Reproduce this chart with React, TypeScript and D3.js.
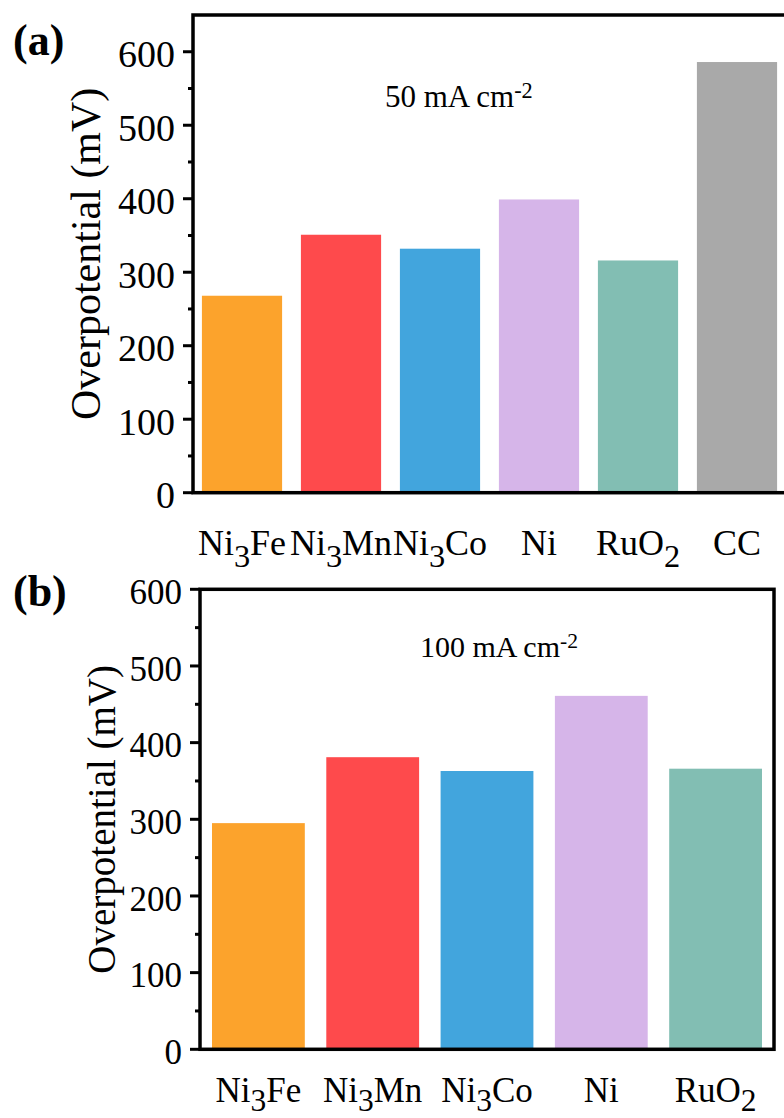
import React from "react";
import * as d3 from "d3";

// overpotential at 50 mA cm-2 (panel a) and 100 mA cm-2 (panel b)
const categoriesA = ["Ni3Fe", "Ni3Mn", "Ni3Co", "Ni", "RuO2", "CC"];
const valuesA = [268, 351, 332, 399, 316, 586];
const categoriesB = ["Ni3Fe", "Ni3Mn", "Ni3Co", "Ni", "RuO2"];
const valuesB = [295, 381, 363, 461, 366];
const yTicks = [0, 100, 200, 300, 400, 500, 600];
const yMinorTicks = [50, 150, 250, 350, 450, 550];
const barColors = ["#fca32c", "#fe4a4c", "#42a5dd", "#d6b5e9", "#82beb3", "#a9a9a9"];

const width = 784;
const height = 1118;
const font = "'Liberation Serif', 'Times New Roman', serif";

// "Ni3Fe" -> Ni, subscript 3, Fe
const Chem = ({ label, size, shift }) => {
  const parts = label.split(/(\d+)/).filter((p) => p !== "");
  let down = false;
  return (
    <>
      {parts.map((p, i) => {
        const isNum = /^\d+$/.test(p);
        let dy = 0;
        if (isNum && !down) { dy = shift; down = true; }
        else if (!isNum && down) { dy = -shift; down = false; }
        return (
          <tspan key={i} dy={dy} fontSize={isNum ? size * 0.9 : size}>
            {p}
          </tspan>
        );
      })}
    </>
  );
};

const Panel = ({ cats, vals, box, yMax, padIn, padOut, tickFont, catFont, catY, subShift, titleFont, titleX, tag, tagY, note, noteX, noteY, noteFont }) => {
  const { left, right, top, bottom } = box;
  const x = d3.scaleBand().domain(cats).range([left, right]).paddingInner(padIn).paddingOuter(padOut);
  const y = d3.scaleLinear().domain([0, yMax]).range([bottom, top]);

  return (
    <g fontFamily={font}>
      {cats.map((c, i) => (
        <rect
          key={c}
          x={x(c)}
          y={y(vals[i])}
          width={x.bandwidth()}
          height={y(0) - y(vals[i])}
          fill={barColors[i]}
        />
      ))}

      <rect x={left} y={top} width={right - left} height={bottom - top} fill="none" stroke="#000" strokeWidth={3.5} />

      {yTicks.map((t) => (
        <g key={t}>
          <line x1={left - 10} x2={left} y1={y(t)} y2={y(t)} stroke="#000" strokeWidth={3} />
          <text x={left - 18} y={y(t) + tickFont * 0.36 + 2} textAnchor="end" fontSize={tickFont}>
            {t}
          </text>
        </g>
      ))}
      {yMinorTicks.map((t) => (
        <line key={t} x1={left - 5} x2={left} y1={y(t)} y2={y(t)} stroke="#000" strokeWidth={3} />
      ))}

      {cats.map((c) => (
        <text key={c} x={x(c) + x.bandwidth() / 2} y={catY} textAnchor="middle" fontSize={catFont}>
          <Chem label={c} size={catFont} shift={subShift} />
        </text>
      ))}

      <text
        transform={`translate(${titleX},${(top + bottom) / 2}) rotate(-90)`}
        textAnchor="middle"
        fontSize={titleFont}
      >
        Overpotential (mV)
      </text>

      <text x={13} y={tagY} fontSize={44} fontWeight="bold">{tag}</text>

      <text x={noteX} y={noteY} fontSize={noteFont}>
        {note}
        <tspan fontSize={noteFont * 0.72} dy={-noteFont * 0.3}>-2</tspan>
      </text>
    </g>
  );
};

const App = () => {
  return (
    <svg width={width} height={height} style={{ position: "absolute", left: 0, top: 0, background: "#fff" }}>
      <Panel
        cats={categoriesA}
        vals={valuesA}
        box={{ left: 193, right: 786, top: 15, bottom: 492.7 }}
        yMax={650}
        padIn={0.19}
        padOut={0.09}
        tickFont={38}
        catFont={36}
        catY={555}
        subShift={12}
        titleFont={42}
        titleX={100}
        tag="(a)"
        tagY={55}
        note="50 mA cm"
        noteX={385}
        noteY={107}
        noteFont={31}
      />
      <Panel
        cats={categoriesB}
        vals={valuesB}
        box={{ left: 200, right: 774, top: 589.3, bottom: 1049.3 }}
        yMax={600}
        padIn={0.188}
        padOut={0.105}
        tickFont={35}
        catFont={35}
        catY={1102}
        subShift={9}
        titleFont={39}
        titleX={115}
        tag="(b)"
        tagY={606}
        note="100 mA cm"
        noteX={420}
        noteY={657}
        noteFont={30}
      />
    </svg>
  );
};

export default App;
